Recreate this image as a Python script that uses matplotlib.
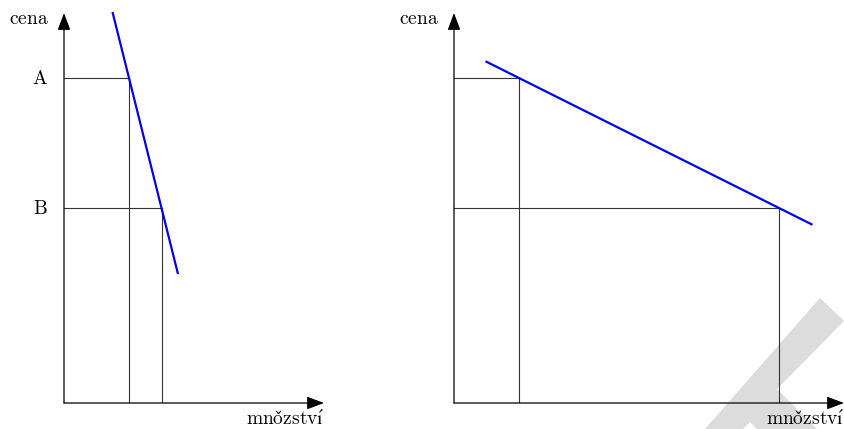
import matplotlib
matplotlib.use("Agg")
import matplotlib.pyplot as plt
from matplotlib.patches import Polygon

plt.rcParams['mathtext.fontset'] = 'cm'

# prices A and B
ceny = [5, 3]
ceny_popisky = ['A', 'B']

# left chart: steep demand
mnozstvi_l = [1, 1.5]
poptavka_l_q = [0.75, 1.75]
poptavka_l_p = [6, 2]

# right chart: flat demand
mnozstvi_r = [1, 5]
poptavka_r_q = [0.5, 5.5]
poptavka_r_p = [5.25, 2.75]

W, H = 844, 429
fig = plt.figure(figsize=(W / 100, H / 100), dpi=100)

# watermark in the bottom right corner (pixel coords)
znacka = [(705, 429), (820, 298), (844, 321), (777, 389), (817, 429),
          (757, 429), (750, 422), (743, 429)]
fig.patches.append(Polygon([(x / W, 1 - y / H) for x, y in znacka],
                           closed=True, facecolor='#dcdcdc', edgecolor='none',
                           transform=fig.transFigure, figure=fig, zorder=-5))

px = 0.72  # one pixel in points


def panel(left, xmax, q, dq, dp, ukaz_popisky):
    ax = fig.add_axes([left / W, 26 / H, xmax * 65 / W, 390 / H])
    ax.set_xlim(0, xmax)
    ax.set_ylim(0, 6)
    ax.axis('off')
    ax.patch.set_visible(False)

    sipka = dict(arrowstyle='-|>,head_length=0.4,head_width=0.15', color='k',
                 lw=0.9, mutation_scale=26, shrinkA=0, shrinkB=0)
    ax.annotate('', xy=(xmax, 0), xytext=(0, 0), arrowprops=sipka,
                annotation_clip=False)
    ax.annotate('', xy=(0, 6), xytext=(0, 0), arrowprops=sipka,
                annotation_clip=False)

    for p, m in zip(ceny, q):
        ax.plot([0, m], [p, p], color='#333333', lw=0.8)
        ax.plot([m, m], [0, p], color='#333333', lw=0.8)

    ax.plot(dq, dp, color='#0000ff', lw=1.6, clip_on=False, zorder=5)

    ax.annotate(r'$\mathrm{cena}$', xy=(0, 6), xytext=(-15 * px, -5 * px),
                textcoords='offset points', ha='right', va='center', fontsize=14)
    ax.annotate(r'$\mathrm{mno\check{z}stv\acute{ı}}$', xy=(xmax, 0),
                xytext=(0, -7 * px), textcoords='offset points',
                ha='right', va='top', fontsize=14, annotation_clip=False)
    if ukaz_popisky:
        for p, t in zip(ceny, ceny_popisky):
            ax.annotate(r'$\mathrm{%s}$' % t, xy=(0, p), xytext=(-16 * px, 0),
                        textcoords='offset points', ha='right', va='center',
                        fontsize=14)
    return ax


panel(64, 4, mnozstvi_l, poptavka_l_q, poptavka_l_p, True)
panel(454, 6, mnozstvi_r, poptavka_r_q, poptavka_r_p, False)

fig.savefig('out.png', dpi=100)
